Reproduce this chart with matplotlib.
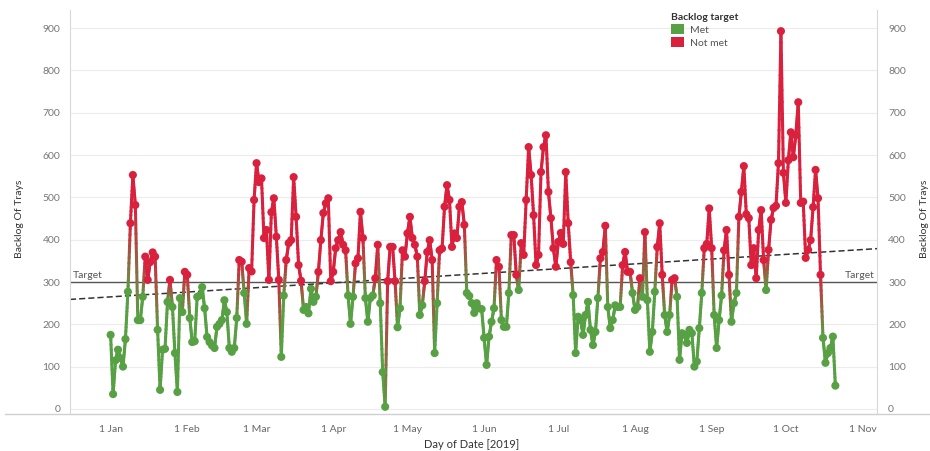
import numpy as np
import pandas as pd
import matplotlib
matplotlib.use("Agg")
import matplotlib.pyplot as plt
import matplotlib.dates as mdates
import matplotlib.transforms as mtransforms
from matplotlib.collections import LineCollection
from matplotlib.colors import to_rgba
from matplotlib.patches import Patch
from matplotlib.lines import Line2D

plt.rcParams['font.family'] = ['Lato', 'DejaVu Sans']

# 日次のバックログ（2019年1月1日から）
jan = [175, 35, 115, 140, 120, 100, 165, 277, 439, 553, 482, 210, 210, 265, 360, 305,
       347, 370, 360, 187, 45, 140, 142, 253, 305, 241, 132, 40, 262, 229, 324]
feb = [317, 215, 158, 160, 265, 268, 288, 238, 170, 158, 150, 144, 194, 201, 210, 257,
       229, 144, 135, 144, 215, 352, 348, 274, 201, 333, 325, 494]
mar = [581, 536, 545, 404, 423, 305, 465, 498, 407, 305, 123, 268, 352, 392, 399, 548,
       454, 340, 303, 234, 241, 226, 284, 253, 265, 324, 399, 463, 486, 498, 302]
apr = [324, 380, 399, 418, 388, 375, 268, 201, 265, 344, 356, 466, 404, 262, 206, 262,
       268, 309, 388, 250, 87, 5, 302, 383, 383, 302, 193, 238, 375, 360]
may = [415, 454, 404, 388, 360, 222, 245, 302, 371, 399, 352, 132, 250, 375, 379, 478,
       529, 494, 383, 415, 404, 478, 489, 435, 274, 267, 250, 227, 250, 238, 236]
jun = [168, 104, 171, 206, 238, 352, 336, 210, 194, 194, 274, 411, 411, 317, 281, 392,
       364, 494, 619, 553, 458, 340, 364, 560, 619, 647, 513, 451, 380, 336]
jul = [395, 416, 390, 560, 439, 347, 269, 132, 218, 210, 175, 222, 253, 187, 151, 182,
       262, 356, 371, 433, 241, 191, 210, 245, 241, 241, 340, 371, 324, 324, 274]
aug = [234, 241, 309, 265, 418, 257, 135, 182, 277, 383, 439, 317, 222, 182, 222, 305,
       309, 265, 116, 179, 175, 156, 187, 179, 100, 112, 191, 274, 380, 390, 474]
sep = [380, 222, 144, 210, 268, 375, 423, 317, 206, 250, 274, 454, 513, 574, 460, 451,
       340, 380, 309, 423, 470, 352, 281, 376, 447, 475, 480, 581, 893, 558]
oct_ = [487, 588, 654, 595, 647, 725, 487, 490, 357, 376, 399, 477, 565, 498, 317, 168,
        109, 132, 144, 171, 55]

target = 300
tick_labels = ['1 Jan', '1 Feb', '1 Mar', '1 Apr', '1 May', '1 Jun',
               '1 Jul', '1 Aug', '1 Sep', '1 Oct', '1 Nov']
tick_dates = pd.date_range('2019-01-01', '2019-11-01', freq='MS')

backlog = np.array(jan + feb + mar + apr + may + jun + jul + aug + sep + oct_, dtype=float)
dates = pd.date_range('2019-01-01', periods=len(backlog), freq='D')
xnum = mdates.date2num(dates)

GREEN = '#57A044'
RED = '#D9213E'
pt_colors = np.array([to_rgba(RED) if v >= target else to_rgba(GREEN) for v in backlog])

fig = plt.figure(figsize=(9.3, 4.51), dpi=100)
ax = fig.add_axes([70 / 930, 1 - 414 / 451, (877 - 70) / 930, (414 - 10) / 451])

xmin = mdates.date2num(pd.Timestamp('2018-12-15 14:00'))
xmax = mdates.date2num(pd.Timestamp('2019-11-06 20:00'))
ax.set_xlim(xmin, xmax)
ax.set_ylim(-12, 943)

# 線（点の色の間をグラデーション）
n_sub = 12
segs, cols = [], []
for i in range(len(backlog) - 1):
    t = np.linspace(0, 1, n_sub + 1)
    xs = xnum[i] + (xnum[i + 1] - xnum[i]) * t
    ys = backlog[i] + (backlog[i + 1] - backlog[i]) * t
    for k in range(n_sub):
        segs.append([(xs[k], ys[k]), (xs[k + 1], ys[k + 1])])
        f = (k + 0.5) / n_sub
        cols.append(pt_colors[i] * (1 - f) + pt_colors[i + 1] * f)
lc = LineCollection(segs, colors=cols, linewidths=2.2, capstyle='round', zorder=2)
ax.add_collection(lc)
ax.scatter(xnum, backlog, c=pt_colors, s=34, linewidths=0, zorder=3)

# ターゲット線とトレンド線
ax.axhline(target, color='#555555', lw=1, zorder=1)
coef = np.polyfit(xnum, backlog, 1)
tx = np.array([xmin, xmax])
ax.plot(tx, np.polyval(coef, tx), color='#333333', lw=1.1, ls=(0, (4, 2)), zorder=1)

trans = mtransforms.blended_transform_factory(ax.transAxes, ax.transData)
ax.text(0.003, target + 4, 'Target', transform=trans, ha='left', va='bottom',
        fontsize=7.5, color='#555555')
ax.text(0.997, target + 4, 'Target', transform=trans, ha='right', va='bottom',
        fontsize=7.5, color='#555555')

# 軸
ax.set_yticks(range(0, 901, 100))
ax.yaxis.grid(True, color='#ececec', lw=0.8)
ax.set_axisbelow(True)
ax.set_xticks(mdates.date2num(tick_dates))
ax.set_xticklabels(tick_labels)
ax.tick_params(axis='x', length=0, pad=8, labelsize=7.5, labelcolor='#666666')
ax.tick_params(axis='y', length=0, pad=7, labelsize=7.5, labelcolor='#777777')
for s in ['top', 'bottom']:
    ax.spines[s].set_visible(False)
for s in ['left', 'right']:
    ax.spines[s].set_color('#d9d9d9')

ax2 = ax.twinx()
ax2.set_ylim(ax.get_ylim())
ax2.set_yticks(range(0, 901, 100))
ax2.tick_params(axis='y', length=0, pad=8, labelsize=7.5, labelcolor='#777777')
for s in ['top', 'bottom', 'left', 'right']:
    ax2.spines[s].set_visible(False)

fig.add_artist(Line2D([5 / 930, 1], [1 - 414 / 451] * 2, color='#d0d0d0', lw=1))

fig.text(20 / 930, 1 - 219 / 451, 'Backlog Of Trays', rotation=90, ha='center',
         va='center', fontsize=7.5, color='#333333')
fig.text(924 / 930, 1 - 219 / 451, 'Backlog Of Trays', rotation=90, ha='center',
         va='center', fontsize=7.5, color='#333333')
fig.text(472 / 930, 1 - 444 / 451, 'Day of Date [2019]', ha='center', va='center',
         fontsize=8, color='#333333')

# 凡例
handles = [Patch(facecolor=GREEN, label='Met'), Patch(facecolor=RED, label='Not met')]
leg = fig.legend(handles=handles, title='Backlog target', loc='upper left',
                 bbox_to_anchor=(664 / 930, 1 - 6 / 451), frameon=False,
                 fontsize=7.5, title_fontsize=7.5, handlelength=1.2, handleheight=1.1,
                 handletextpad=0.6, labelspacing=0.2, borderpad=0.2)
leg.get_title().set_fontweight('bold')
leg.get_title().set_color('#333333')
for t in leg.get_texts():
    t.set_color('#555555')
leg._legend_box.align = 'left'

fig.savefig('out.png', dpi=100)
